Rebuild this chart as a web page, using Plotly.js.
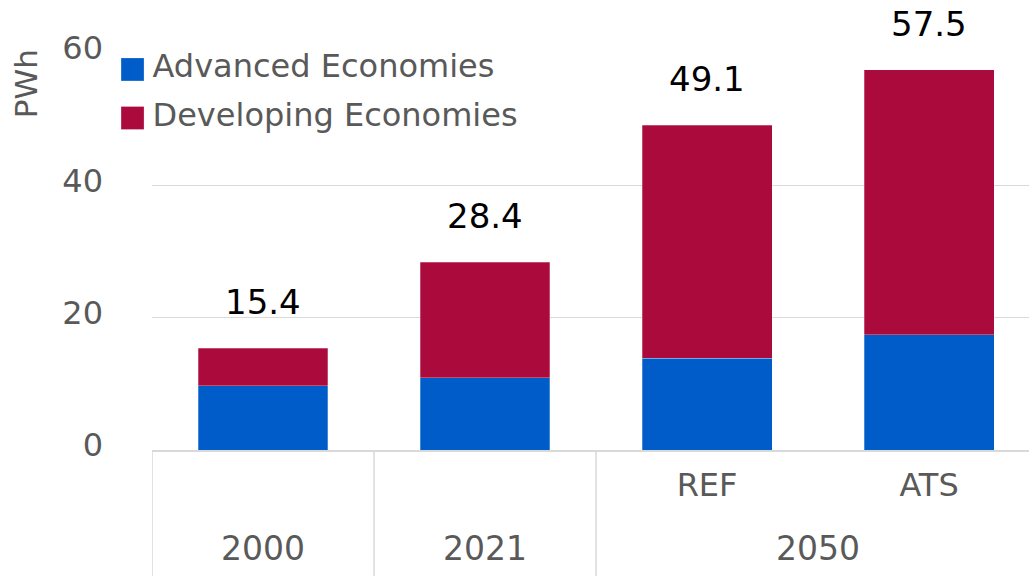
<!DOCTYPE html>
<html>
<head>
<meta charset="utf-8">
<script src="https://cdn.plot.ly/plotly-3.0.1.min.js"></script>
<style>
html,body{margin:0;padding:0;background:#fff;}
#chart{width:1029px;height:576px;}
#chart .legend .legendpoints path{d:path("M11.5,16.5H-11.5V-6.5H11.5Z");}
</style>
</head>
<body>
<div id="chart"></div>
<script>
// ---- data ----
const groups = ["2000", "2021", "2050", "2050"];
const subLabels = ["", "", "REF", "ATS"];
const advanced = [9.7, 10.9, 13.9, 17.4];
const developing = [5.7, 17.5, 35.2, 40.1];
const totals = [15.4, 28.4, 49.1, 57.5];
const yTicks = [0, 20, 40, 60];
const seriesNames = ["Advanced Economies", "Developing Economies"];
const unitLabel = "PWh";

// ---- derived ----
const xIdx = groups.map((_, i) => i);
const gray = "#595959";
const gridCol = "#d9d9d9";
const font = "DejaVu Sans";

// group spans for lower-level labels and dividers
const groupSpans = [];
groups.forEach((g, i) => {
  const last = groupSpans[groupSpans.length - 1];
  if (last && last.name === g) last.end = i; else groupSpans.push({name: g, start: i, end: i});
});

const subTickVals = xIdx.filter(i => subLabels[i] !== "");
const subTickText = subTickVals.map(i => subLabels[i]);

const traces = [
  {type: "bar", name: seriesNames[0], legendgroup: "a", x: xIdx, y: advanced, width: 0.585,
   marker: {color: "#005CC8", line: {width: 0.6, color: "rgba(255,255,255,0.45)"}}, hoverinfo: "y+name"},
  {type: "bar", name: seriesNames[1], legendgroup: "b", x: xIdx, y: developing, width: 0.585,
   marker: {color: "#AA0A3C", line: {width: 0.6, color: "rgba(255,255,255,0.45)"}}, hoverinfo: "y+name"}
];

const annotations = [];
// total labels
xIdx.forEach(i => {
  annotations.push({x: i, y: totals[i], xref: "x", yref: "y", text: totals[i].toFixed(1),
    showarrow: false, yanchor: "middle", yshift: 46, font: {family: font, size: 34, color: "#000"}});
});
// group labels (second level)
groupSpans.forEach(s => {
  annotations.push({x: (s.start + s.end) / 2, y: -0.247, xref: "x", yref: "paper", text: s.name,
    showarrow: false, yanchor: "middle", font: {family: font, size: 33, color: gray}});
});
// unit label
annotations.push({x: -0.1437, y: 0.924, xref: "paper", yref: "paper", text: unitLabel, textangle: -90,
  showarrow: false, xanchor: "center", yanchor: "middle", font: {family: font, size: 31, color: gray}});

// dividers between groups
const shapes = groupSpans.map(s => ({type: "line", xref: "x", yref: "paper", x0: s.start - 0.5, x1: s.start - 0.5,
  y0: 0, y1: -0.33, line: {color: gridCol, width: 1.5}}));

const layout = {
  width: 1029, height: 576,
  margin: {l: 152, r: 0, t: 53, b: 126, pad: 0},
  paper_bgcolor: "#fff", plot_bgcolor: "#fff",
  barmode: "stack",
  bargap: 0.4,
  showlegend: true,
  legend: {x: -0.045, y: 1.04, xanchor: "left", yanchor: "top", traceorder: "grouped",
    font: {family: font, size: 32, color: gray}, bgcolor: "rgba(0,0,0,0)", itemwidth: 30, tracegroupgap: 4},
  xaxis: {range: [-0.5, 3.45], tickvals: subTickVals, ticktext: subTickText, ticks: "",
    showgrid: false, zeroline: false, showline: true, linecolor: gridCol, linewidth: 1.5,
    tickfont: {family: font, size: 32, color: gray}, ticklabelstandoff: 6, fixedrange: true},
  yaxis: {range: [0, 60], tickvals: yTicks, ticks: "", showgrid: true, gridcolor: gridCol, gridwidth: 1.5,
    zeroline: false, showline: false, tickfont: {family: font, size: 32, color: gray},
    ticklabelstandoff: 48, ticklabelshift: -5, fixedrange: true},
  annotations: annotations,
  shapes: shapes
};

Plotly.newPlot("chart", traces, layout, {displayModeBar: false, staticPlot: true});
</script>
</body>
</html>
